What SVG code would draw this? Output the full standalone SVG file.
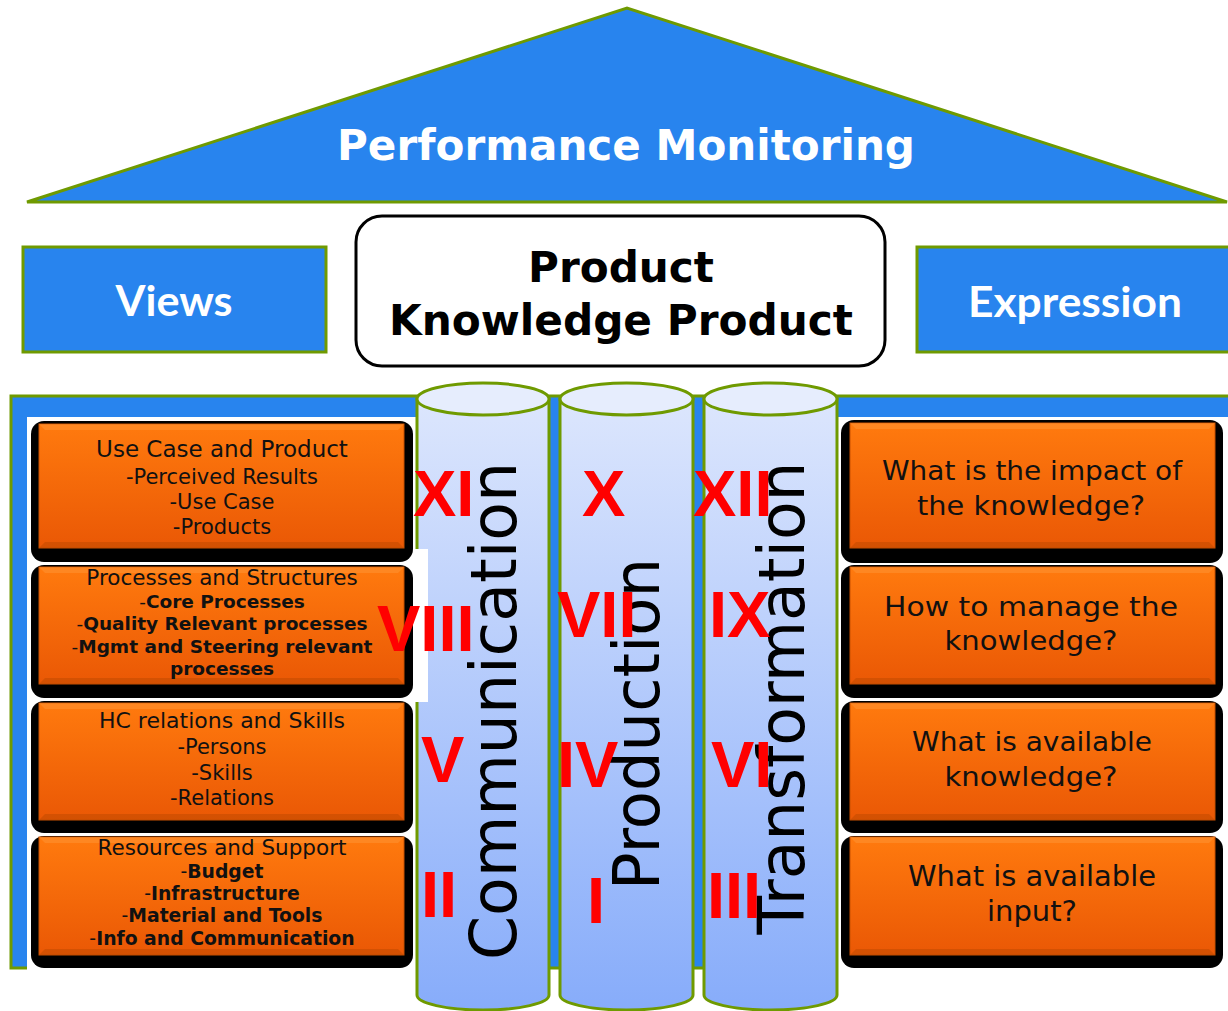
<svg xmlns="http://www.w3.org/2000/svg" width="1228" height="1011" viewBox="0 0 1228 1011">
<defs>
<linearGradient id="og" x1="0" y1="0" x2="0" y2="1">
<stop offset="0" stop-color="#ff7a0e"/>
<stop offset="1" stop-color="#ea5805"/>
</linearGradient>
<linearGradient id="cg" x1="0" y1="0" x2="0" y2="1">
<stop offset="0" stop-color="#dce6fd"/>
<stop offset="1" stop-color="#87acfa"/>
</linearGradient>
<style>
.blue{fill:#2884ee;stroke:#6f9a00;stroke-width:3}
.shadow{fill:#000}
.org{fill:url(#og);stroke:#c85000;stroke-width:1}
.hl{fill:#ff9a3c;opacity:.45}
.dk{fill:#b84600;opacity:.45}
.cyl{fill:url(#cg);stroke:#6f9a00;stroke-width:3}
.top{fill:#e6edfd;stroke:#6f9a00;stroke-width:3}
.t{font-family:"DejaVu Sans",Verdana,sans-serif;fill:#111;text-anchor:middle}
.b{font-weight:bold}
.n{font-weight:normal}
.w{font-family:Lato,"DejaVu Sans",sans-serif;font-weight:bold;fill:#fff;text-anchor:middle;font-size:42px}
.v{font-family:"DejaVu Sans",sans-serif;font-size:64px;fill:#000;text-anchor:middle}
.r{font-family:"Liberation Sans",Arial,sans-serif;font-weight:bold;font-size:65px;fill:#ff0000}
</style>
</defs>

<g id="roof">
<polygon class="blue" points="27,202 627,8 1227,202"/>
<text x="626" y="160" textLength="578" lengthAdjust="spacingAndGlyphs" style="font-family:'DejaVu Sans',Verdana,sans-serif;font-weight:bold;font-size:43px;fill:#fff;text-anchor:middle">Performance Monitoring</text>
</g>

<g id="views">
<rect class="blue" x="23" y="247" width="303" height="105"/>
<text class="w" x="174" y="316" textLength="117" lengthAdjust="spacingAndGlyphs">Views</text>
</g>

<g id="product">
<rect x="356" y="216" width="529" height="150" rx="26" fill="#fff" stroke="#000" stroke-width="3"/>
<text class="t b" x="621" y="282" style="font-size:43px;fill:#000" textLength="186" lengthAdjust="spacingAndGlyphs">Product</text>
<text class="t b" x="621" y="335" style="font-size:43px;fill:#000" textLength="464" lengthAdjust="spacingAndGlyphs">Knowledge Product</text>
</g>

<g id="expression">
<rect class="blue" x="917" y="247" width="330" height="105"/>
<text class="w" x="1075" y="317" textLength="214" lengthAdjust="spacingAndGlyphs">Expression</text>
</g>

<g id="frame">
<rect class="blue" x="11" y="396" width="1240" height="572"/>
<rect x="27" y="417" width="389" height="553" fill="#fff"/>
<rect x="838" y="417" width="400" height="553" fill="#fff"/>
</g>

<g id="box-use-case">
<rect class="shadow" x="31" y="421" width="382" height="141" rx="13"/>
<rect class="org" x="39" y="424" width="365" height="124"/>
<polygon class="hl" points="39,424 404,424 398,430 45,430"/>
<polygon class="dk" points="39,548 404,548 398,542 45,542"/>
<text class="t" x="222" y="457" style="font-size:23px">Use Case and Product</text>
<text class="t" x="222" y="484" style="font-size:21px">-Perceived Results</text>
<text class="t" x="222" y="509" style="font-size:21px">-Use Case</text>
<text class="t" x="222" y="534" style="font-size:21px">-Products</text>
</g>

<g id="box-processes">
<rect class="shadow" x="31" y="565" width="382" height="133" rx="13"/>
<rect class="org" x="39" y="567" width="365" height="117"/>
<polygon class="hl" points="39,567 404,567 398,573 45,573"/>
<polygon class="dk" points="39,684 404,684 398,678 45,678"/>
<text class="t" x="222" y="585" style="font-size:21.5px">Processes and Structures</text>
<text class="t b" x="222" y="608" style="font-size:18.5px"><tspan class="n">-</tspan>Core Processes</text>
<text class="t b" x="222" y="630" style="font-size:18.5px"><tspan class="n">-</tspan>Quality Relevant processes</text>
<text class="t b" x="222" y="653" style="font-size:18.5px"><tspan class="n">-</tspan>Mgmt and Steering relevant</text>
<text class="t b" x="222" y="675" style="font-size:18.5px">processes</text>
</g>

<g id="box-hc">
<rect class="shadow" x="31" y="701" width="382" height="132" rx="13"/>
<rect class="org" x="39" y="703" width="365" height="117"/>
<polygon class="hl" points="39,703 404,703 398,709 45,709"/>
<polygon class="dk" points="39,820 404,820 398,814 45,814"/>
<text class="t" x="222" y="728" style="font-size:22px">HC relations and Skills</text>
<text class="t" x="222" y="754" style="font-size:21px">-Persons</text>
<text class="t" x="222" y="780" style="font-size:21px">-Skills</text>
<text class="t" x="222" y="805" style="font-size:21px">-Relations</text>
</g>

<g id="box-resources">
<rect class="shadow" x="31" y="836" width="382" height="132" rx="13"/>
<rect class="org" x="39" y="837" width="365" height="118"/>
<polygon class="hl" points="39,837 404,837 398,843 45,843"/>
<polygon class="dk" points="39,955 404,955 398,949 45,949"/>
<text class="t" x="222" y="855" style="font-size:21.5px">Resources and Support</text>
<text class="t b" x="222" y="878" style="font-size:18.8px"><tspan class="n">-</tspan>Budget</text>
<text class="t b" x="222" y="900" style="font-size:18.8px"><tspan class="n">-</tspan>Infrastructure</text>
<text class="t b" x="222" y="922" style="font-size:18.8px"><tspan class="n">-</tspan>Material and Tools</text>
<text class="t b" x="222" y="945" style="font-size:18.8px"><tspan class="n">-</tspan>Info and Communication</text>
</g>

<g id="box-impact">
<rect class="shadow" x="841" y="420" width="382" height="143" rx="13"/>
<rect class="org" x="850" y="423" width="365" height="125"/>
<polygon class="hl" points="850,423 1215,423 1209,429 856,429"/>
<polygon class="dk" points="850,548 1215,548 1209,542 856,542"/>
<text class="t" x="1032" y="480" style="font-size:27px" textLength="300" lengthAdjust="spacingAndGlyphs">What is the impact of</text>
<text class="t" x="1031" y="515" style="font-size:27px" textLength="228" lengthAdjust="spacingAndGlyphs">the knowledge?</text>
</g>

<g id="box-manage">
<rect class="shadow" x="841" y="565" width="382" height="133" rx="13"/>
<rect class="org" x="850" y="567" width="365" height="117"/>
<polygon class="hl" points="850,567 1215,567 1209,573 856,573"/>
<polygon class="dk" points="850,684 1215,684 1209,678 856,678"/>
<text class="t" x="1031" y="616" style="font-size:27px" textLength="294" lengthAdjust="spacingAndGlyphs">How to manage  the</text>
<text class="t" x="1031" y="650" style="font-size:27px" textLength="173" lengthAdjust="spacingAndGlyphs">knowledge?</text>
</g>

<g id="box-available-knowledge">
<rect class="shadow" x="841" y="701" width="382" height="132" rx="13"/>
<rect class="org" x="850" y="703" width="365" height="117"/>
<polygon class="hl" points="850,703 1215,703 1209,709 856,709"/>
<polygon class="dk" points="850,820 1215,820 1209,814 856,814"/>
<text class="t" x="1032" y="751" style="font-size:27px" textLength="240" lengthAdjust="spacingAndGlyphs">What is available</text>
<text class="t" x="1031" y="786" style="font-size:27px" textLength="173" lengthAdjust="spacingAndGlyphs">knowledge?</text>
</g>

<g id="box-available-input">
<rect class="shadow" x="841" y="836" width="382" height="132" rx="13"/>
<rect class="org" x="850" y="837" width="365" height="118"/>
<polygon class="hl" points="850,837 1215,837 1209,843 856,843"/>
<polygon class="dk" points="850,955 1215,955 1209,949 856,949"/>
<text class="t" x="1032" y="886" style="font-size:28px" textLength="248" lengthAdjust="spacingAndGlyphs">What is available</text>
<text class="t" x="1032" y="921" style="font-size:28px" textLength="90" lengthAdjust="spacingAndGlyphs">input?</text>
</g>

<g id="pillar-communication">
<path class="cyl" d="M417,399 L417,995 A66,15 0 0 0 549,995 L549,399 Z"/>
<ellipse class="top" cx="483" cy="399" rx="66" ry="16"/>
</g>
<g id="pillar-production">
<path class="cyl" d="M560,399 L560,995 A66.5,15 0 0 0 693,995 L693,399 Z"/>
<ellipse class="top" cx="626.5" cy="399" rx="66.5" ry="16"/>
</g>
<g id="pillar-transformation">
<path class="cyl" d="M704,399 L704,995 A66.5,15 0 0 0 837,995 L837,399 Z"/>
<ellipse class="top" cx="770.5" cy="399" rx="66.5" ry="16"/>
</g>

<rect x="413" y="549" width="15" height="153" fill="#fff"/>

<g id="pillar-labels">
<text class="v" transform="translate(516,711) rotate(-90)" textLength="498" lengthAdjust="spacingAndGlyphs">Communication</text>
<text class="v" transform="translate(659,724) rotate(-90)" textLength="332" lengthAdjust="spacingAndGlyphs">Production</text>
<text class="v" transform="translate(804,698) rotate(-90)" textLength="473" lengthAdjust="spacingAndGlyphs">Transformation</text>
</g>

<g id="numerals">
<text class="r" x="413" y="516">XI</text>
<text class="r" x="582" y="516">X</text>
<text class="r" x="693" y="516">XII</text>
<text class="r" x="377" y="651">VIII</text>
<text class="r" x="557" y="637">VII</text>
<text class="r" x="709" y="637">IX</text>
<text class="r" x="421" y="782">V</text>
<text class="r" x="557" y="787">IV</text>
<text class="r" x="711" y="787">VI</text>
<text class="r" x="421" y="917">II</text>
<text class="r" x="587" y="923">I</text>
<text class="r" x="707" y="918">III</text>
</g>
</svg>
